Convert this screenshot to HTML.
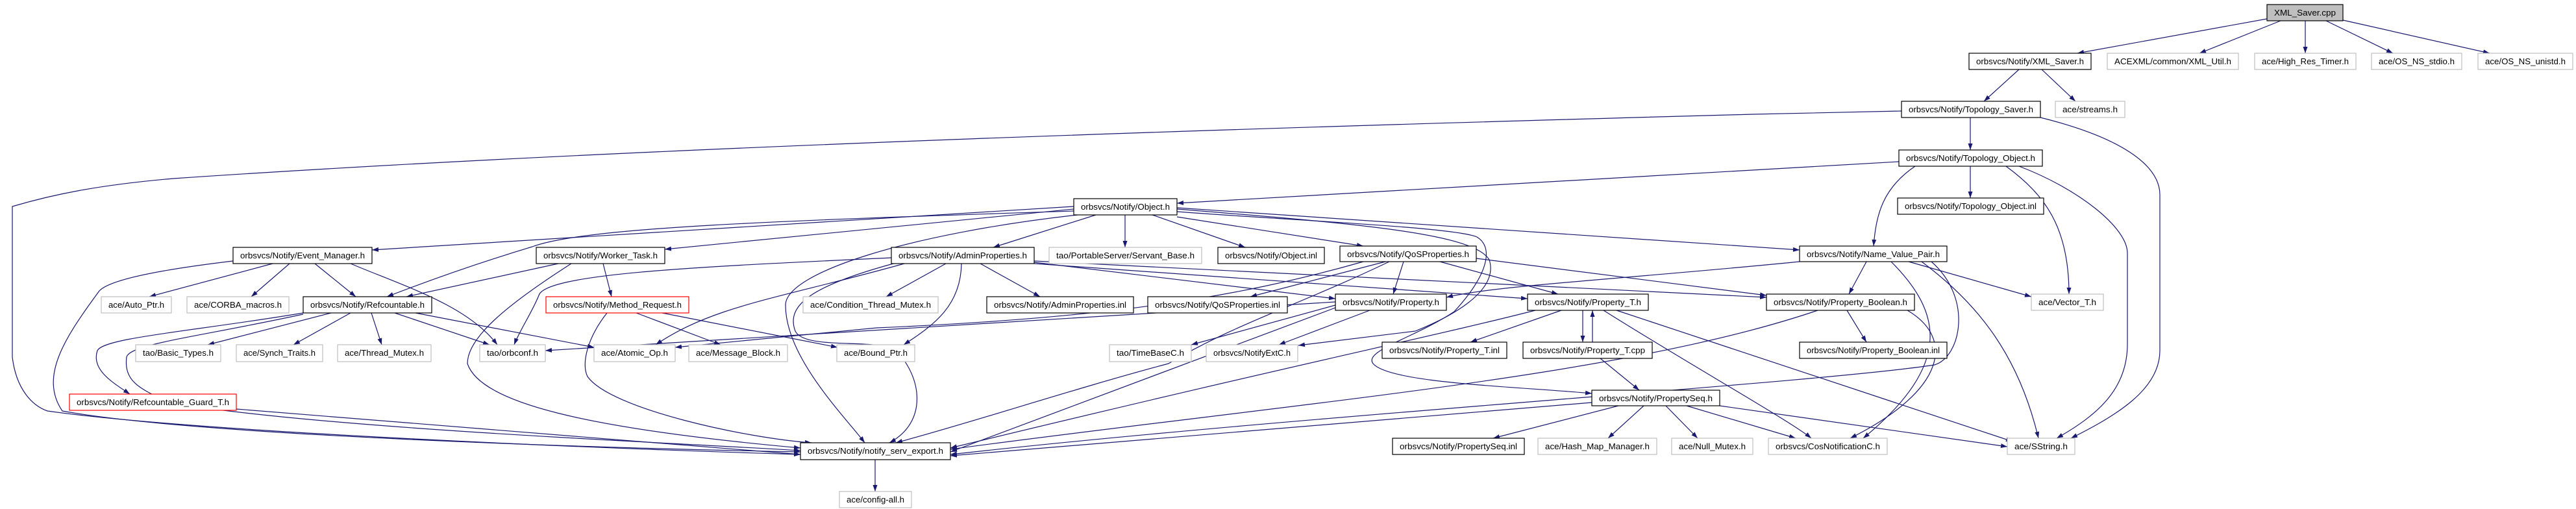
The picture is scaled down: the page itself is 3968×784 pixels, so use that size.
<!DOCTYPE html>
<html><head><meta charset="utf-8"><style>
html,body{margin:0;padding:0;background:#fff;}
svg{display:block;}
text{font-family:"Liberation Sans",sans-serif;font-size:13px;fill:#000;}
.e{fill:none;stroke:#191970;stroke-width:1.2;marker-end:url(#a);}
.b{fill:#fff;stroke:#000;stroke-width:1.2;}
.g{fill:#fff;stroke:#bfbfbf;stroke-width:1.2;}
.r{fill:#fff;stroke:#ff0000;stroke-width:1.2;}
</style></head><body>
<svg width="3968" height="784" viewBox="0 0 3968 784" xmlns="http://www.w3.org/2000/svg">
<defs><marker id="a" markerUnits="userSpaceOnUse" markerWidth="11" markerHeight="8" refX="10" refY="3.5" orient="auto"><path d="M0,0 L10,3.5 L0,7 z" fill="#191970"/></marker></defs>
<g>
<path class="e" d="M3492,29 L3200,82"/>
<path class="e" d="M3513,32 L3388,82"/>
<path class="e" d="M3551,32 L3551,82"/>
<path class="e" d="M3583,32 L3686,82"/>
<path class="e" d="M3609,31 L3835,82"/>
<path class="e" d="M3110,107 L3056,156"/>
<path class="e" d="M3145,107 L3197,156"/>
<path class="e" d="M2929,171 L2700,176 C2000,195 1000,225 267,275 C150,285 80,300 19,318 L19,550 C25,600 50,625 73,633 C300,665 900,690 1233,700"/>
<path class="e" d="M3143,181 C3280,215 3327,260 3327,300 L3327,540 C3327,600 3260,640 3190,675"/>
<path class="e" d="M3035,181 L3035,231"/>
<path class="e" d="M3035,256 L3035,305"/>
<path class="e" d="M2925,249 L1813,313"/>
<path class="e" d="M2950,256 C2900,290 2890,330 2886,379"/>
<path class="e" d="M3090,256 C3150,300 3187,350 3187,453"/>
<path class="e" d="M3110,256 C3200,290 3277,350 3277,390 L3277,530 C3277,600 3230,640 3168,675"/>
<path class="e" d="M1654,318 L573,385"/>
<path class="e" d="M1654,322 L1024,384"/>
<path class="e" d="M1654,325 C1200,340 900,350 820,380 C720,410 640,440 596,457"/>
<path class="e" d="M1660,331 C1400,360 1210,420 1210,470 C1210,550 1300,640 1332,682"/>
<path class="e" d="M1688,331 L1530,381"/>
<path class="e" d="M1733,331 L1733,381"/>
<path class="e" d="M1775,331 L1918,381"/>
<path class="e" d="M1813,334 L2100,379"/>
<path class="e" d="M1813,320 L2772,385"/>
<path class="e" d="M1813,326 C2000,340 2240,350 2275,365 C2300,380 2295,420 2240,480 C2180,520 2100,540 2115,560 C2140,590 2330,595 2452,606"/>
<path class="e" d="M1813,322 C2100,345 2270,360 2294,400 C2310,450 2230,490 2180,510 L2000,532"/>
<path class="e" d="M420,406 L230,457"/>
<path class="e" d="M446,406 L387,457"/>
<path class="e" d="M485,406 L548,457"/>
<path class="e" d="M540,406 C620,440 720,470 766,531"/>
<path class="e" d="M359,402 C250,415 170,430 153,448 C100,520 60,580 96,633 C300,670 900,690 1233,696"/>
<path class="e" d="M860,406 L626,457"/>
<path class="e" d="M929,406 L942,457"/>
<path class="e" d="M880,406 C780,470 720,520 720,560 C740,620 900,660 1233,690"/>
<path class="e" d="M510,482 L320,531"/>
<path class="e" d="M540,482 L452,531"/>
<path class="e" d="M572,482 L588,531"/>
<path class="e" d="M608,482 L754,531"/>
<path class="e" d="M640,482 L915,535"/>
<path class="e" d="M467,482 C300,510 160,520 150,540 C140,570 175,590 200,607"/>
<path class="e" d="M467,484 C300,520 200,530 195,550 C190,590 220,600 260,620 C500,660 1000,680 1233,694"/>
<path class="e" d="M364,630 L1233,700"/>
<path class="e" d="M980,482 L1110,531"/>
<path class="e" d="M1020,482 L1290,535"/>
<path class="e" d="M935,482 C905,520 895,560 905,580 C940,630 1150,675 1250,682"/>
<path class="e" d="M1373,397 C1100,410 840,420 830,455 C820,480 800,510 792,531"/>
<path class="e" d="M1457,406 L1365,457"/>
<path class="e" d="M1510,406 L1602,457"/>
<path class="e" d="M1481,406 C1480,470 1440,500 1392,531"/>
<path class="e" d="M1393,406 C1200,460 1100,470 1010,531"/>
<path class="e" d="M1380,405 C1250,440 1210,470 1225,510 C1240,540 1350,520 1380,540 C1420,580 1430,650 1370,682"/>
<path class="e" d="M1593,404 L2057,460"/>
<path class="e" d="M1593,406 L2353,460"/>
<path class="e" d="M1593,402 L2721,458"/>
<path class="e" d="M2134,403 L1926,457"/>
<path class="e" d="M2162,403 L2146,453"/>
<path class="e" d="M2218,403 L2400,453"/>
<path class="e" d="M2274,398 L2721,455"/>
<path class="e" d="M2140,403 C2000,470 1900,500 1800,560 C1650,600 1500,650 1380,682"/>
<path class="e" d="M2100,403 C1900,460 1700,490 1350,505 L1040,535"/>
<path class="e" d="M2057,470 L1835,531"/>
<path class="e" d="M2110,478 L1970,531"/>
<path class="e" d="M2057,474 L1464,696"/>
<path class="e" d="M2057,465 L840,540"/>
<path class="e" d="M2405,478 L2265,527"/>
<path class="e" d="M2438,478 L2438,527"/>
<path class="e" d="M2453,527 L2453,478"/>
<path class="e" d="M2470,478 C2600,560 2760,650 2790,675"/>
<path class="e" d="M2490,478 L3100,680"/>
<path class="e" d="M2365,478 C2200,520 2000,560 1464,690"/>
<path class="e" d="M2465,552 L2525,601"/>
<path class="e" d="M2845,478 L2875,527"/>
<path class="e" d="M2800,478 C2500,580 2000,620 1464,692"/>
<path class="e" d="M2938,478 C3010,520 3000,600 2850,675"/>
<path class="e" d="M2772,403 C2500,430 2300,440 2228,458"/>
<path class="e" d="M2875,403 L2848,453"/>
<path class="e" d="M2940,403 L3129,457"/>
<path class="e" d="M2960,403 C3050,470 3110,550 3140,675"/>
<path class="e" d="M2913,403 C2990,480 3010,560 2870,675"/>
<path class="e" d="M2975,403 C3040,460 3020,550 2980,562 C2800,590 2000,640 1464,700"/>
<path class="e" d="M2493,625 L2300,675"/>
<path class="e" d="M2532,625 L2477,675"/>
<path class="e" d="M2566,625 L2615,675"/>
<path class="e" d="M2598,625 L2766,675"/>
<path class="e" d="M2649,625 L3092,688"/>
<path class="e" d="M2452,620 L1464,702"/>
<path class="e" d="M1348,708 L1348,757"/>
</g>
<g>
<rect x="3492" y="7" width="117" height="25" fill="#bfbfbf" stroke="#000" stroke-width="1.2"/><text x="3550.5" y="24" text-anchor="middle" textLength="95" lengthAdjust="spacingAndGlyphs">XML_Saver.cpp</text>
<rect class="b" x="3033" y="82" width="188" height="25"/><text x="3127" y="99" text-anchor="middle" textLength="166" lengthAdjust="spacingAndGlyphs">orbsvcs/Notify/XML_Saver.h</text>
<rect class="g" x="3246" y="82" width="202" height="25"/><text x="3347" y="99" text-anchor="middle" textLength="180" lengthAdjust="spacingAndGlyphs">ACEXML/common/XML_Util.h</text>
<rect class="g" x="3473" y="82" width="156" height="25"/><text x="3551" y="99" text-anchor="middle" textLength="134" lengthAdjust="spacingAndGlyphs">ace/High_Res_Timer.h</text>
<rect class="g" x="3653" y="82" width="139" height="25"/><text x="3722.5" y="99" text-anchor="middle" textLength="117" lengthAdjust="spacingAndGlyphs">ace/OS_NS_stdio.h</text>
<rect class="g" x="3817" y="82" width="146" height="25"/><text x="3890" y="99" text-anchor="middle" textLength="124" lengthAdjust="spacingAndGlyphs">ace/OS_NS_unistd.h</text>
<rect class="b" x="2929" y="156" width="214" height="25"/><text x="3036" y="173" text-anchor="middle" textLength="192" lengthAdjust="spacingAndGlyphs">orbsvcs/Notify/Topology_Saver.h</text>
<rect class="g" x="3166" y="156" width="107" height="25"/><text x="3219.5" y="173" text-anchor="middle" textLength="85" lengthAdjust="spacingAndGlyphs">ace/streams.h</text>
<rect class="b" x="2925" y="231" width="221" height="25"/><text x="3035.5" y="248" text-anchor="middle" textLength="199" lengthAdjust="spacingAndGlyphs">orbsvcs/Notify/Topology_Object.h</text>
<rect class="b" x="2923" y="305" width="225" height="25"/><text x="3035.5" y="322" text-anchor="middle" textLength="203" lengthAdjust="spacingAndGlyphs">orbsvcs/Notify/Topology_Object.inl</text>
<rect class="b" x="1654" y="306" width="159" height="25"/><text x="1733.5" y="323" text-anchor="middle" textLength="137" lengthAdjust="spacingAndGlyphs">orbsvcs/Notify/Object.h</text>
<rect class="b" x="2772" y="379" width="227" height="24"/><text x="2885.5" y="396" text-anchor="middle" textLength="205" lengthAdjust="spacingAndGlyphs">orbsvcs/Notify/Name_Value_Pair.h</text>
<rect class="b" x="359" y="381" width="214" height="25"/><text x="466" y="398" text-anchor="middle" textLength="192" lengthAdjust="spacingAndGlyphs">orbsvcs/Notify/Event_Manager.h</text>
<rect class="b" x="826" y="381" width="198" height="25"/><text x="925" y="398" text-anchor="middle" textLength="176" lengthAdjust="spacingAndGlyphs">orbsvcs/Notify/Worker_Task.h</text>
<rect class="b" x="1373" y="381" width="220" height="25"/><text x="1483" y="398" text-anchor="middle" textLength="198" lengthAdjust="spacingAndGlyphs">orbsvcs/Notify/AdminProperties.h</text>
<rect class="g" x="1616" y="381" width="235" height="25"/><text x="1733.5" y="398" text-anchor="middle" textLength="213" lengthAdjust="spacingAndGlyphs">tao/PortableServer/Servant_Base.h</text>
<rect class="b" x="1876" y="381" width="164" height="25"/><text x="1958" y="398" text-anchor="middle" textLength="142" lengthAdjust="spacingAndGlyphs">orbsvcs/Notify/Object.inl</text>
<rect class="b" x="2064" y="379" width="210" height="24"/><text x="2169" y="396" text-anchor="middle" textLength="188" lengthAdjust="spacingAndGlyphs">orbsvcs/Notify/QoSProperties.h</text>
<rect class="g" x="156" y="457" width="108" height="25"/><text x="210" y="474" text-anchor="middle" textLength="86" lengthAdjust="spacingAndGlyphs">ace/Auto_Ptr.h</text>
<rect class="g" x="288" y="457" width="157" height="25"/><text x="366.5" y="474" text-anchor="middle" textLength="135" lengthAdjust="spacingAndGlyphs">ace/CORBA_macros.h</text>
<rect class="b" x="467" y="457" width="198" height="25"/><text x="566" y="474" text-anchor="middle" textLength="176" lengthAdjust="spacingAndGlyphs">orbsvcs/Notify/Refcountable.h</text>
<rect class="r" x="841" y="457" width="220" height="25"/><text x="951" y="474" text-anchor="middle" textLength="198" lengthAdjust="spacingAndGlyphs">orbsvcs/Notify/Method_Request.h</text>
<rect class="g" x="1237" y="457" width="208" height="25"/><text x="1341" y="474" text-anchor="middle" textLength="186" lengthAdjust="spacingAndGlyphs">ace/Condition_Thread_Mutex.h</text>
<rect class="b" x="1520" y="457" width="226" height="25"/><text x="1633" y="474" text-anchor="middle" textLength="204" lengthAdjust="spacingAndGlyphs">orbsvcs/Notify/AdminProperties.inl</text>
<rect class="b" x="1768" y="457" width="215" height="25"/><text x="1875.5" y="474" text-anchor="middle" textLength="193" lengthAdjust="spacingAndGlyphs">orbsvcs/Notify/QoSProperties.inl</text>
<rect class="b" x="2057" y="453" width="171" height="25"/><text x="2142.5" y="470" text-anchor="middle" textLength="149" lengthAdjust="spacingAndGlyphs">orbsvcs/Notify/Property.h</text>
<rect class="b" x="2353" y="453" width="186" height="25"/><text x="2446" y="470" text-anchor="middle" textLength="164" lengthAdjust="spacingAndGlyphs">orbsvcs/Notify/Property_T.h</text>
<rect class="b" x="2721" y="453" width="228" height="25"/><text x="2835" y="470" text-anchor="middle" textLength="206" lengthAdjust="spacingAndGlyphs">orbsvcs/Notify/Property_Boolean.h</text>
<rect class="g" x="3129" y="453" width="111" height="25"/><text x="3184.5" y="470" text-anchor="middle" textLength="89" lengthAdjust="spacingAndGlyphs">ace/Vector_T.h</text>
<rect class="g" x="209" y="531" width="131" height="26"/><text x="274.5" y="548" text-anchor="middle" textLength="109" lengthAdjust="spacingAndGlyphs">tao/Basic_Types.h</text>
<rect class="g" x="364" y="531" width="133" height="26"/><text x="430.5" y="548" text-anchor="middle" textLength="111" lengthAdjust="spacingAndGlyphs">ace/Synch_Traits.h</text>
<rect class="g" x="520" y="531" width="144" height="26"/><text x="592" y="548" text-anchor="middle" textLength="122" lengthAdjust="spacingAndGlyphs">ace/Thread_Mutex.h</text>
<rect class="g" x="739" y="531" width="101" height="26"/><text x="789.5" y="548" text-anchor="middle" textLength="79" lengthAdjust="spacingAndGlyphs">tao/orbconf.h</text>
<rect class="g" x="915" y="531" width="125" height="26"/><text x="977.5" y="548" text-anchor="middle" textLength="103" lengthAdjust="spacingAndGlyphs">ace/Atomic_Op.h</text>
<rect class="g" x="1061" y="531" width="152" height="26"/><text x="1137" y="548" text-anchor="middle" textLength="130" lengthAdjust="spacingAndGlyphs">ace/Message_Block.h</text>
<rect class="g" x="1289" y="531" width="120" height="26"/><text x="1349" y="548" text-anchor="middle" textLength="98" lengthAdjust="spacingAndGlyphs">ace/Bound_Ptr.h</text>
<rect class="g" x="1709" y="531" width="126" height="26"/><text x="1772" y="548" text-anchor="middle" textLength="104" lengthAdjust="spacingAndGlyphs">tao/TimeBaseC.h</text>
<rect class="g" x="1858" y="531" width="141" height="26"/><text x="1928.5" y="548" text-anchor="middle" textLength="119" lengthAdjust="spacingAndGlyphs">orbsvcs/NotifyExtC.h</text>
<rect class="b" x="2129" y="527" width="192" height="25"/><text x="2225" y="544" text-anchor="middle" textLength="170" lengthAdjust="spacingAndGlyphs">orbsvcs/Notify/Property_T.inl</text>
<rect class="b" x="2346" y="527" width="199" height="25"/><text x="2445.5" y="544" text-anchor="middle" textLength="177" lengthAdjust="spacingAndGlyphs">orbsvcs/Notify/Property_T.cpp</text>
<rect class="b" x="2772" y="527" width="227" height="25"/><text x="2885.5" y="544" text-anchor="middle" textLength="205" lengthAdjust="spacingAndGlyphs">orbsvcs/Notify/Property_Boolean.inl</text>
<rect class="r" x="107" y="607" width="257" height="25"/><text x="235.5" y="624" text-anchor="middle" textLength="235" lengthAdjust="spacingAndGlyphs">orbsvcs/Notify/Refcountable_Guard_T.h</text>
<rect class="b" x="2452" y="601" width="197" height="24"/><text x="2550.5" y="618" text-anchor="middle" textLength="175" lengthAdjust="spacingAndGlyphs">orbsvcs/Notify/PropertySeq.h</text>
<rect class="b" x="1233" y="682" width="231" height="26"/><text x="1348.5" y="699" text-anchor="middle" textLength="209" lengthAdjust="spacingAndGlyphs">orbsvcs/Notify/notify_serv_export.h</text>
<rect class="b" x="2145" y="675" width="203" height="25"/><text x="2246.5" y="692" text-anchor="middle" textLength="181" lengthAdjust="spacingAndGlyphs">orbsvcs/Notify/PropertySeq.inl</text>
<rect class="g" x="2369" y="675" width="183" height="25"/><text x="2460.5" y="692" text-anchor="middle" textLength="161" lengthAdjust="spacingAndGlyphs">ace/Hash_Map_Manager.h</text>
<rect class="g" x="2575" y="675" width="125" height="25"/><text x="2637.5" y="692" text-anchor="middle" textLength="103" lengthAdjust="spacingAndGlyphs">ace/Null_Mutex.h</text>
<rect class="g" x="2724" y="675" width="183" height="25"/><text x="2815.5" y="692" text-anchor="middle" textLength="161" lengthAdjust="spacingAndGlyphs">orbsvcs/CosNotificationC.h</text>
<rect class="g" x="3092" y="675" width="104" height="25"/><text x="3144" y="692" text-anchor="middle" textLength="82" lengthAdjust="spacingAndGlyphs">ace/SString.h</text>
<rect class="g" x="1293" y="757" width="111" height="25"/><text x="1348.5" y="774" text-anchor="middle" textLength="89" lengthAdjust="spacingAndGlyphs">ace/config-all.h</text>
</g>
</svg>
</body></html>
